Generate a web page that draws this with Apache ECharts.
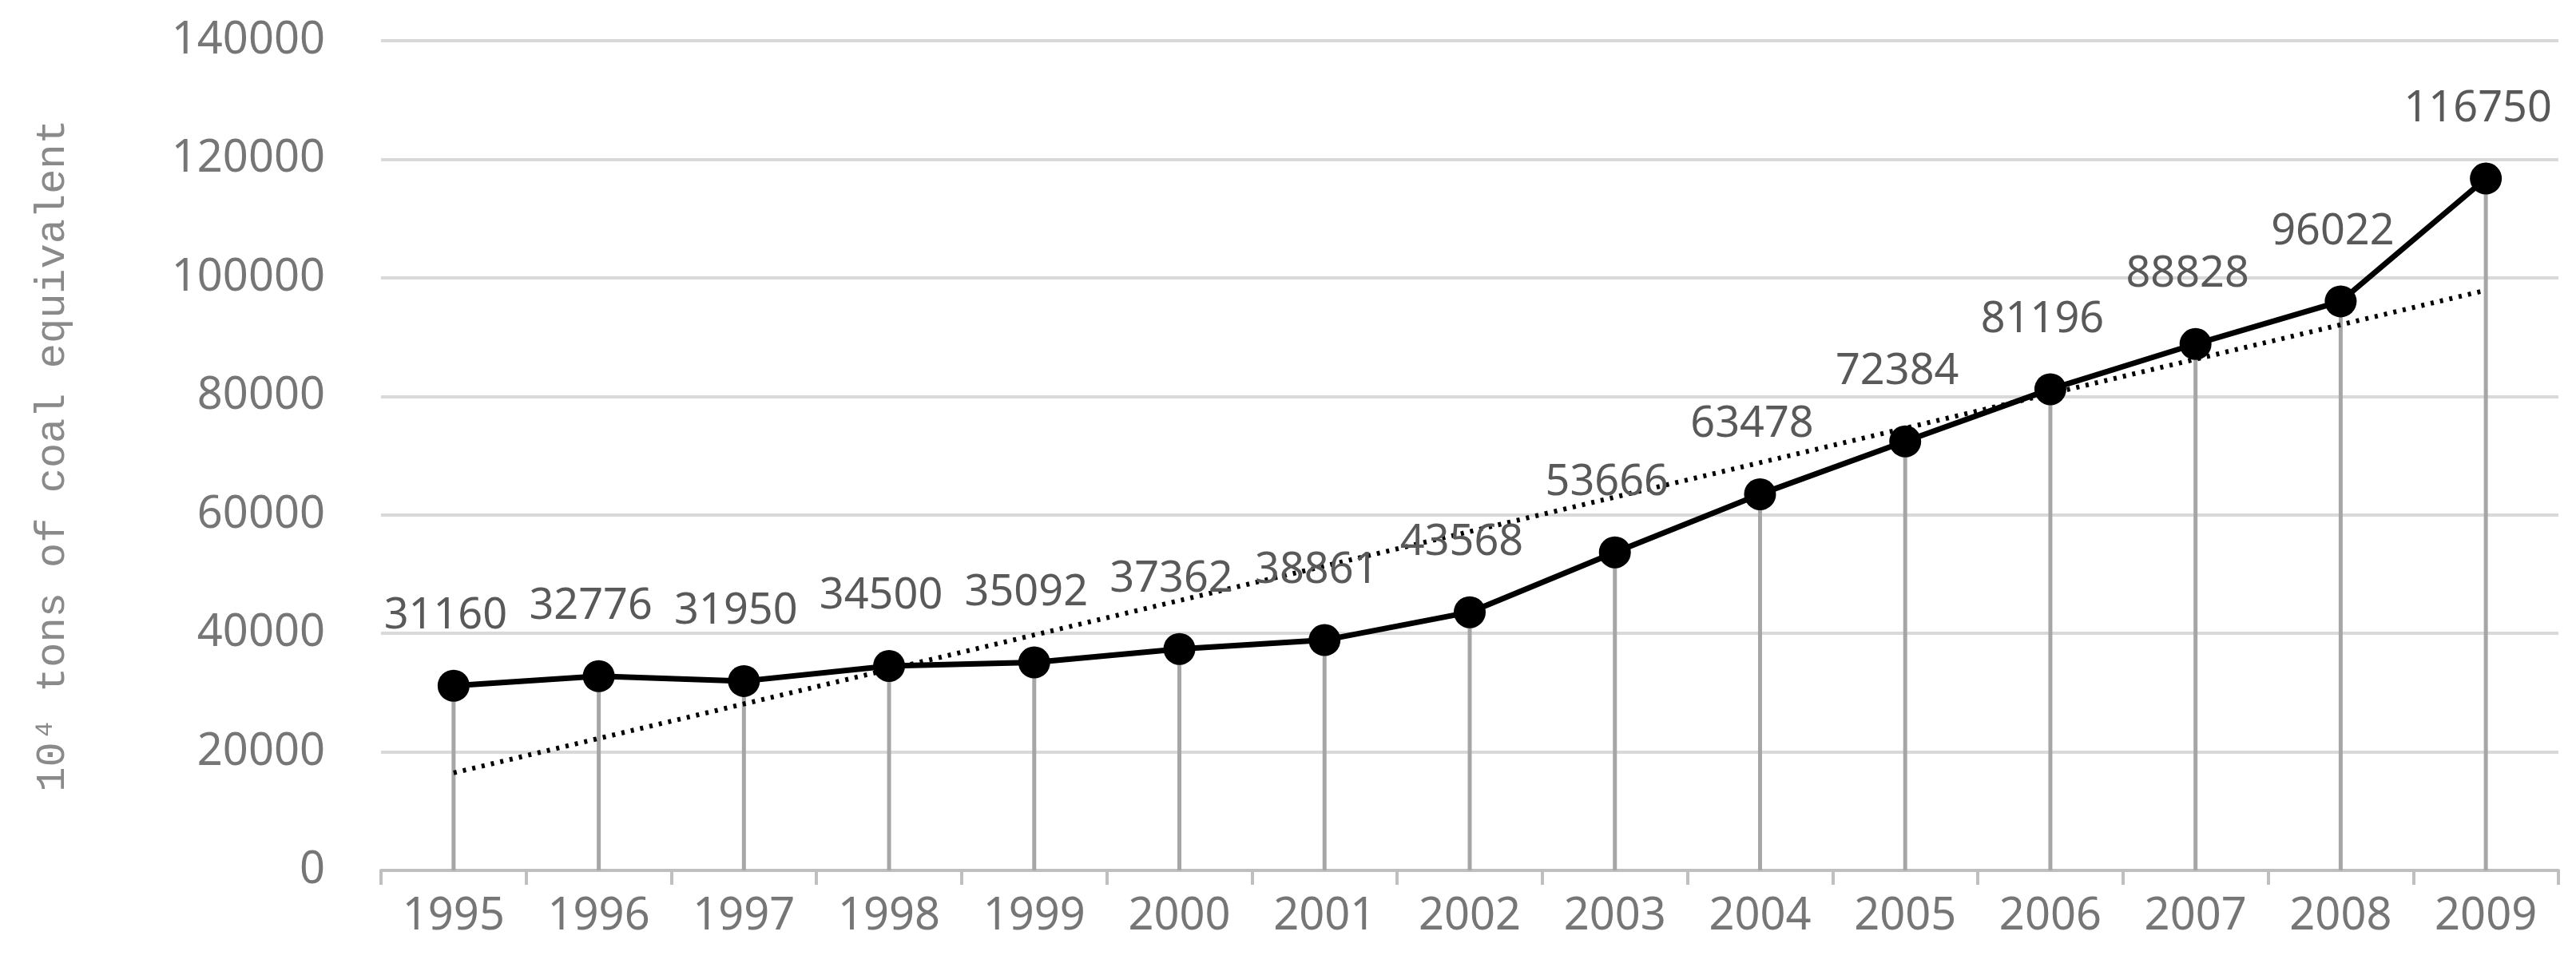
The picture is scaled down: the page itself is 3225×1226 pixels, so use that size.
<!DOCTYPE html>
<html><head><meta charset="utf-8">
<script src="https://cdn.jsdelivr.net/npm/echarts@6/dist/echarts.min.js"></script>
<style>html,body{margin:0;padding:0;background:#fff}#c{width:3225px;height:1226px}</style>
</head><body><div id="c"></div>
<script>
const years = ['1995','1996','1997','1998','1999','2000','2001','2002','2003','2004','2005','2006','2007','2008','2009'];
const consumption = [31160,32776,31950,34500,35092,37362,38861,43568,53666,63478,72384,81196,88828,96022,116750];
const yTicks = [0,20000,40000,60000,80000,100000,120000,140000];

// linear trendline (least squares) from the data
const n = consumption.length;
const xm = (n - 1) / 2;
const ym = consumption.reduce((a, b) => a + b, 0) / n;
let sxy = 0, sxx = 0;
consumption.forEach((v, i) => { sxy += (i - xm) * (v - ym); sxx += (i - xm) * (i - xm); });
const slope = sxy / sxx;
const trend = consumption.map((v, i) => ym + slope * (i - xm));

const chart = echarts.init(document.getElementById('c'));
const font = 'Noto Sans';
chart.setOption({
  animation: false,
  grid: { left: 477, right: 22, top: 51, bottom: 136 },
  xAxis: {
    type: 'category', data: years, boundaryGap: true,
    axisLine: { lineStyle: { color: '#bfbfbf', width: 4 } },
    axisTick: { show: true, length: 18, lineStyle: { color: '#bfbfbf', width: 4 } },
    axisLabel: { color: '#767676', fontSize: 56, fontFamily: font, margin: 30 }
  },
  yAxis: {
    type: 'value', min: yTicks[0], max: yTicks[yTicks.length - 1], interval: 20000,
    name: '10\u2074 tons of coal equivalent', nameLocation: 'middle', nameGap: 385,
    nameTextStyle: { color: '#8a8a8a', fontSize: 52, fontFamily: 'Liberation Mono' },
    axisLine: { show: false }, axisTick: { show: false },
    splitLine: { lineStyle: { color: '#d9d9d9', width: 4 } },
    axisLabel: { color: '#767676', fontSize: 56, fontFamily: font, margin: 70,
      formatter: v => String(v) }
  },
  series: [
    { type: 'bar', data: consumption, barWidth: 5, itemStyle: { color: '#a6a6a6' }, z: 1 },
    { type: 'line', data: trend, symbol: 'none', z: 2,
      lineStyle: { color: '#000', width: 6, type: [4, 8] } },
    { type: 'line', data: consumption, symbol: 'circle', symbolSize: 40, z: 3,
      lineStyle: { color: '#000', width: 7 }, itemStyle: { color: '#000' },
      label: { show: true, position: 'top', distance: 40, offset: [-10, 0],
        color: '#595959', fontSize: 54, fontFamily: font } }
  ]
});
</script></body></html>
